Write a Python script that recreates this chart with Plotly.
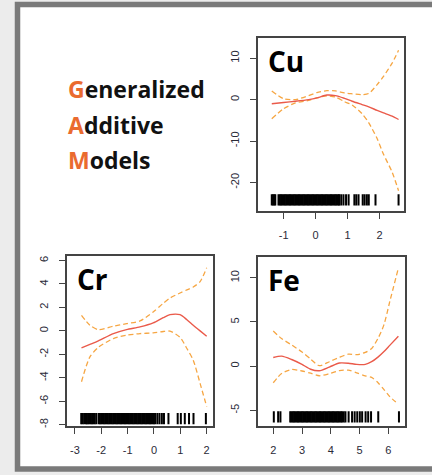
import plotly.graph_objects as go

W, H = 432, 475

# ---------------- data ----------------
cu_x = [-1.37, -1.0, -0.63, -0.22, 0.04, 0.35, 0.62, 0.9, 1.14, 1.45, 1.66, 1.92, 2.12, 2.39, 2.59]
cu_fit = [-1.0, -0.7, -0.4, 0.0, 0.4, 1.1, 0.96, 0.3, -0.4, -1.2, -1.75, -2.6, -3.2, -4.0, -4.8]
cu_up = [2.1, 0.2, 0.0, 0.96, 1.7, 2.15, 2.1, 1.6, 1.4, 1.2, 1.5, 3.6, 5.6, 8.8, 11.9]
cu_lo = [-4.6, -2.2, -0.8, -0.2, 0.4, 0.9, 0.6, -0.5, -1.3, -3.4, -5.6, -9.4, -13.2, -17.5, -22.0]
cu_rug = [-1.37, -1.33, -1.29, -1.26, -1.16, -1.12, -1.08, -1.04, -1.00, -0.96, -0.92, -0.88,
          -0.84, -0.80, -0.76, -0.72, -0.68, -0.64, -0.60, -0.56, -0.52, -0.48, -0.44, -0.40,
          -0.36, -0.32, -0.28, -0.24, -0.20, -0.16, -0.12, -0.08, -0.04, 0.00, 0.04, 0.08,
          0.12, 0.16, 0.20, 0.24, 0.28, 0.32, 0.36, 0.40, 0.44, 0.48, 0.52, 0.56, 0.60, 0.64,
          0.68, 0.72, 0.74, 0.80, 0.87, 0.95, 1.03, 1.21, 1.27, 1.34, 1.47,
          1.53, 1.60, 1.66, 1.87, 2.59]
cu_xticks = [-1, 0, 1, 2]
cu_xlabels = ["-1", "0", "1", "2"]
cu_yticks = [-20, -10, 0, 10]
cu_ylabels = ["-20", "-10", "0", "10"]

cr_x = [-2.75, -2.43, -2.11, -1.54, -1.04, -0.53, -0.03, 0.35, 0.61, 0.99, 1.25, 1.49, 1.75, 2.0]
cr_fit = [-1.44, -1.15, -0.85, -0.23, 0.11, 0.34, 0.68, 1.13, 1.39, 1.39, 0.95, 0.48, 0.0, -0.45]
cr_up = [1.33, 0.48, 0.11, 0.4, 0.62, 0.85, 1.61, 2.35, 2.8, 3.23, 3.5, 3.74, 4.2, 5.38]
cr_lo = [-4.33, -2.21, -1.40, -0.65, -0.37, -0.23, -0.17, -0.05, -0.02, -0.55, -1.5, -2.49, -4.47, -6.45]
cr_rug = [-2.76, -2.71, -2.65, -2.58, -2.55, -2.50, -2.45, -2.40, -2.35, -2.30, -2.25, -2.19,
          -2.10, -2.05, -2.00, -1.95, -1.90, -1.85, -1.80, -1.75, -1.70, -1.65, -1.60, -1.55,
          -1.50, -1.45, -1.40, -1.35, -1.30, -1.25, -1.20, -1.15, -1.10, -1.05, -1.00, -0.95,
          -0.90, -0.85, -0.80, -0.75, -0.70, -0.65, -0.60, -0.55, -0.50, -0.45, -0.40, -0.35,
          -0.30, -0.25, -0.20, -0.15, -0.10, -0.05, 0.00, 0.05,
          0.13, 0.21, 0.30, 0.38, 0.55, 0.90, 1.02, 1.17, 1.33, 1.50, 1.97]
cr_xticks = [-3, -2, -1, 0, 1, 2]
cr_xlabels = ["-3", "-2", "-1", "0", "1", "2"]
cr_yticks = [-8, -6, -4, -2, 0, 2, 4, 6]
cr_ylabels = ["-8", "-6", "-4", "-2", "0", "2", "4", "6"]

fe_x = [2.0, 2.29, 2.64, 3.0, 3.3, 3.6, 3.95, 4.3, 4.61, 4.9, 5.2, 5.42, 5.65, 5.85, 6.05, 6.35]
fe_fit = [0.98, 1.13, 0.75, 0.2, -0.35, -0.52, -0.1, 0.35, 0.33, 0.2, 0.2, 0.5, 1.05, 1.65, 2.35, 3.38]
fe_up = [3.98, 3.12, 2.4, 1.6, 0.8, 0.05, 0.5, 1.0, 1.35, 1.3, 1.55, 2.0, 3.2, 4.7, 7.3, 11.1]
fe_lo = [-1.88, -0.83, -0.38, -0.55, -0.8, -1.09, -0.85, -0.5, -0.45, -0.75, -1.1, -1.28, -1.9, -2.65, -3.45, -4.3]
fe_rug = [2.02, 2.17, 2.25, 2.59, 2.635, 2.68, 2.725, 2.77, 2.815, 2.86, 2.905, 2.95, 2.995,
          3.04, 3.085, 3.13, 3.175, 3.22, 3.265, 3.31, 3.355, 3.40, 3.445, 3.49, 3.535, 3.58,
          3.625, 3.67, 3.715, 3.76, 3.805, 3.85, 3.895, 3.94, 3.985, 4.03, 4.075, 4.12, 4.165,
          4.21, 4.255, 4.30, 4.345, 4.39, 4.45, 4.51,
          4.62, 4.74, 4.83, 4.92, 5.01, 5.09, 5.21, 5.30, 5.40, 5.65, 6.37]
fe_xticks = [2, 3, 4, 5, 6]
fe_xlabels = ["2", "3", "4", "5", "6"]
fe_yticks = [-5, 0, 5, 10]
fe_ylabels = ["-5", "0", "5", "10"]

panels = [
    ("Cu", cu_x, cu_fit, cu_up, cu_lo, cu_rug, -24.2, cu_xticks, cu_xlabels, cu_yticks, cu_ylabels,
     [-1.80, 2.76], [-26.9, 14.9], (258, 404, 38, 212)),
    ("Cr", cr_x, cr_fit, cr_up, cr_lo, cr_rug, -7.47, cr_xticks, cr_xlabels, cr_yticks, cr_ylabels,
     [-3.30, 2.24], [-8.12, 6.39], (67, 213, 257, 428)),
    ("Fe", fe_x, fe_fit, fe_up, fe_lo, fe_rug, -5.75, fe_xticks, fe_xlabels, fe_yticks, fe_ylabels,
     [1.47, 6.58], [-6.8, 12.37], (258, 405, 258, 428)),
]

RED = "#EA5A4A"
ORANGE = "#F6A643"
AXC = "#444444"
TICKFONT = dict(family="Liberation Sans", size=11, color="#2a2a38")

fig = go.Figure()
annotations = []
for i, (name, x, fit, up, lo, rug, rug_y, xt, xl, yt, yl, xr, yr, box) in enumerate(panels):
    idx = "" if i == 0 else str(i + 1)
    xa, ya = "x" + idx, "y" + idx
    for ys, col, dash, w in [(up, ORANGE, "5px,3px", 1.3), (lo, ORANGE, "5px,3px", 1.3), (fit, RED, "solid", 1.4)]:
        fig.add_trace(go.Scatter(x=x, y=ys, mode="lines", xaxis=xa, yaxis=ya,
                                 line=dict(color=col, width=w, dash=dash, shape="spline", smoothing=0.7),
                                 showlegend=False, hoverinfo="skip"))
    fig.add_trace(go.Scatter(x=rug, y=[rug_y] * len(rug), mode="markers", xaxis=xa, yaxis=ya,
                             marker=dict(symbol="line-ns-open", size=8, color="black",
                                         line=dict(color="black", width=2.0)),
                             showlegend=False, hoverinfo="skip"))
    l, r, t, b = box
    common = dict(showline=True, mirror=True, linecolor=AXC, linewidth=1.5, ticks="outside",
                  ticklen=6, tickcolor=AXC, tickwidth=1.3, showgrid=False, zeroline=False,
                  tickfont=TICKFONT, fixedrange=True, ticklabelstandoff=7)
    fig.update_layout(**{
        "xaxis" + idx: dict(domain=[l / W, r / W], range=xr, tickvals=xt, ticktext=xl,
                            anchor=ya, **common),
        "yaxis" + idx: dict(domain=[1 - b / H, 1 - t / H], range=yr, tickvals=yt, ticktext=yl,
                            anchor=xa, tickangle=-90, **common),
    })
    annotations.append(dict(text="<b>" + name + "</b>", xref="paper", yref="paper",
                            x=(l + 8) / W, y=1 - (t + 2) / H, xanchor="left", yanchor="top",
                            showarrow=False, font=dict(family="Open Sans", size=28, color="black")))

OR = "#EA6B2F"
for k, (first, rest) in enumerate([("G", "eneralized"), ("A", "dditive"), ("M", "odels")]):
    annotations.append(dict(
        text="<b><span style='color:%s'>%s</span>%s</b>" % (OR, first, rest),
        xref="paper", yref="paper", x=66 / W, y=1 - (71 + 36 * k) / H,
        xanchor="left", yanchor="top", showarrow=False,
        font=dict(family="Open Sans", size=23, color="#111111")))

frame = dict(type="rect", xref="paper", yref="paper", x0=17.5 / W, x1=1.05,
             y0=1 - 471 / H, y1=1 - 4.5 / H, line=dict(color="#7a7a7a", width=5.5),
             fillcolor="white", layer="below")

fig.update_layout(width=W, height=H, margin=dict(l=0, r=0, t=0, b=0),
                  paper_bgcolor="#ececec", plot_bgcolor="white",
                  shapes=[frame], annotations=annotations, showlegend=False)

fig.write_html("out.html", config={"displayModeBar": False})
